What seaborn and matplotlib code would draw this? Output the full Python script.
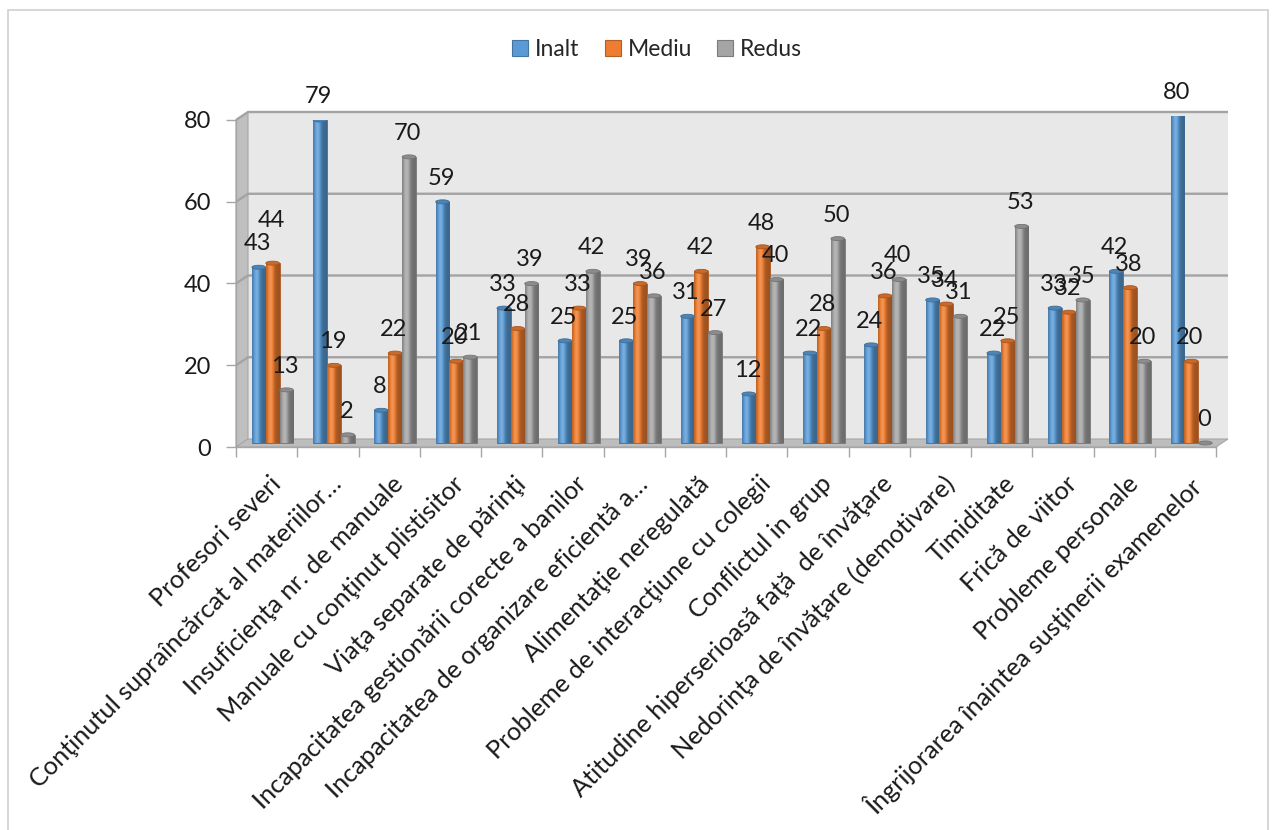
import numpy as np
import pandas as pd
import matplotlib
matplotlib.use("Agg")
import matplotlib.pyplot as plt
import seaborn as sns
from matplotlib import transforms
from matplotlib.patches import Rectangle, Polygon, Ellipse

# ---- data -----------------------------------------------------------------
categories = [
    "Profesori severi",
    "Conţinutul supraîncărcat al materiilor…",
    "Insuficienţa nr. de manuale",
    "Manuale cu conţinut plistisitor",
    "Viaţa separate de părinţi",
    "Incapacitatea gestionării corecte a banilor",
    "Incapacitatea de organizare eficientă a…",
    "Alimentaţie neregulată",
    "Probleme de interacţiune cu colegii",
    "Conflictul in grup",
    "Atitudine hiperserioasă faţă  de învăţare",
    "Nedorinţa de învăţare (demotivare)",
    "Timiditate",
    "Frică de viitor",
    "Probleme personale",
    "Îngrijorarea înaintea susţinerii examenelor",
]
inalt = [43, 79, 8, 59, 33, 25, 25, 31, 12, 22, 24, 35, 22, 33, 42, 80]
mediu = [44, 19, 22, 20, 28, 33, 39, 42, 48, 28, 36, 34, 25, 32, 38, 20]
redus = [13, 2, 70, 21, 39, 42, 36, 27, 40, 50, 40, 31, 53, 35, 20, 0]
series_names = ["Inalt", "Mediu", "Redus"]
series_colors = ["#5B9BD5", "#ED7D31", "#A5A5A5"]
y_ticks = [0, 20, 40, 60, 80]

df = pd.DataFrame({
    "Categorie": categories * 3,
    "Valoare": inalt + mediu + redus,
    "Nivel": [s for s in series_names for _ in categories],
})

# ---- figure ---------------------------------------------------------------
sns.set_theme(style="white")
plt.rcParams["font.family"] = ["Lato", "DejaVu Sans"]

W, H, DPI = 1278, 830, 100
fig = plt.figure(figsize=(W / DPI, H / DPI), dpi=DPI)
fig.patch.set_facecolor("white")
renderer = fig.canvas.get_renderer()


def fit_size(text, target_px, ref_size=10.0):
    """Font size at which `text` is `target_px` pixels long."""
    probe = fig.text(0, 0, text, fontsize=ref_size)
    width = probe.get_window_extent(renderer=renderer).width
    probe.remove()
    return ref_size * target_px / width


ax_l, ax_b, ax_w, ax_h = 236, 447, 980, 327   # pixel box of the front axes
ax = fig.add_axes([ax_l / W, 1 - ax_b / H, ax_w / W, ax_h / H])

sns.barplot(data=df, x="Categorie", y="Valoare", hue="Nivel",
            palette=series_colors, saturation=1, width=0.68,
            ax=ax, legend=False, zorder=3)
bars = list(ax.patches)

n = len(categories)
x_lo, x_hi = -0.5, n - 0.5
y_lo, y_hi = y_ticks[0], y_ticks[-1]

# 3-D depth of the box, in pixels, and the same in data units
dxp, dyp = 12, 8
dx = dxp / (ax_w / (x_hi - x_lo))
dy = dyp / (ax_h / (y_hi - y_lo))

# bars sit in the middle of the box depth
mid = transforms.offset_copy(ax.transData, fig=fig, x=dxp / 2, y=dyp / 2, units="dots")

# back wall, left wall and floor
ax.add_patch(Rectangle((x_lo + dx, y_lo + dy), x_hi - x_lo, y_hi - y_lo,
                       facecolor="#e8e8e8", edgecolor="none", zorder=0, clip_on=False))
ax.add_patch(Polygon([(x_lo, y_lo), (x_lo, y_hi), (x_lo + dx, y_hi + dy), (x_lo + dx, y_lo + dy)],
                     closed=True, facecolor="#bfbfbf", edgecolor="#a6a6a6", lw=0.8,
                     zorder=1, clip_on=False))
ax.add_patch(Polygon([(x_lo, y_lo), (x_hi, y_lo), (x_hi + dx, y_lo + dy), (x_lo + dx, y_lo + dy)],
                     closed=True, facecolor="#bdbdbd", edgecolor="#a6a6a6", lw=0.8,
                     zorder=1.5, clip_on=False))
for v in y_ticks[1:]:
    ax.plot([x_lo, x_lo + dx, x_hi + dx], [v, v + dy, v + dy], color="#a3a3a3",
            lw=1.7, zorder=1.2, clip_on=False, solid_capstyle="butt")


def shade(rgb, f):
    rgb = np.asarray(rgb)
    if f >= 1:
        return rgb + (1 - rgb) * (f - 1)
    return rgb * f


t = np.linspace(0, 1, 48)
profile = 0.72 + 0.48 * np.exp(-((t - 0.33) / 0.24) ** 2) - 0.06 * t

# cylindrical bars
cap_h = 4.0 / (ax_h / (y_hi - y_lo))
for p in bars:
    p.set_transform(mid)
    x0, w, h = p.get_x(), p.get_width(), p.get_height()
    base = p.get_facecolor()[:3]
    grad = np.array([shade(base, f) for f in profile])[np.newaxis, :, :]
    p.set_edgecolor(shade(base, 0.7))
    p.set_linewidth(0.6)
    if h > 0:
        im = ax.imshow(grad, extent=(x0, x0 + w, 0, h), aspect="auto",
                       interpolation="bilinear", zorder=3.1)
        im.set_transform(mid)
        im.set_clip_path(p)
    ax.add_patch(Ellipse((x0 + w / 2, h), w * 0.98, cap_h, transform=mid,
                         facecolor=shade(base, 0.85), edgecolor=shade(base, 0.7),
                         lw=0.6, zorder=3.3))

# value labels; one label is lifted so it clears its neighbour
label_lift = {(1, 0): 14}   # (series index, category index) -> extra points
for i, p in enumerate(bars):
    x0, w, h = p.get_x(), p.get_width(), p.get_height()
    extra = label_lift.get((i // n, i % n), 0)
    ax.annotate(f"{int(round(h))}", xy=(x0 + w / 2, h), xycoords=mid,
                xytext=(-1, 17 + extra), textcoords="offset points",
                ha="center", va="center", fontsize=17, color="#1a1a1a", zorder=6)

ax.set_xlim(x_lo, x_hi)
ax.set_ylim(y_lo, y_hi)
ax.set_xlabel("")
ax.set_ylabel("")

for side in ("top", "right"):
    ax.spines[side].set_visible(False)
for side in ("left", "bottom"):
    ax.spines[side].set_color("#a6a6a6")
    ax.spines[side].set_linewidth(1.0)
    ax.spines[side].set_zorder(2)

ax.set_yticks(y_ticks)
ax.set_yticklabels([str(v) for v in y_ticks])
ax.tick_params(axis="y", direction="out", length=7, width=1, color="#a6a6a6",
               labelsize=17, pad=11, labelcolor="#1a1a1a", left=True)

# category labels: the longest one runs about 465 px along the diagonal
cat_size = fit_size(categories[-1], 465)
ax.set_xticks(range(n))
ax.set_xticklabels(categories, rotation=45, ha="right", va="top",
                   rotation_mode="anchor", fontsize=cat_size, color="#1a1a1a")
ax.set_xticks(np.arange(x_lo, x_hi + 0.01, 1.0), minor=True)
ax.tick_params(axis="x", which="major", length=0, pad=18)
ax.tick_params(axis="x", which="minor", direction="out", length=7, width=1,
               color="#a6a6a6", bottom=True)
shift = transforms.ScaledTranslation(2 / DPI, 0, fig.dpi_scale_trans)
for lbl in ax.get_xticklabels():
    lbl.set_transform(lbl.get_transform() + shift)

# legend
handles = [Rectangle((0, 0), 1, 1, facecolor=c,
                     edgecolor=shade(matplotlib.colors.to_rgb(c), 0.75), lw=0.8)
           for c in series_colors]
fig.legend(handles, series_names, loc="center", bbox_to_anchor=(657 / W, 1 - 50 / H),
           ncol=3, frameon=False, fontsize=16.5, handlelength=0.7, handleheight=0.7,
           handletextpad=0.3, columnspacing=1.1)

# chart frame
fig.add_artist(Rectangle((8 / W, -0.01), 1260 / W, 1.01 - 10 / H, transform=fig.transFigure,
                         fill=False, edgecolor="#d0d0d0", lw=1.2))

fig.savefig("out.png", dpi=DPI)
